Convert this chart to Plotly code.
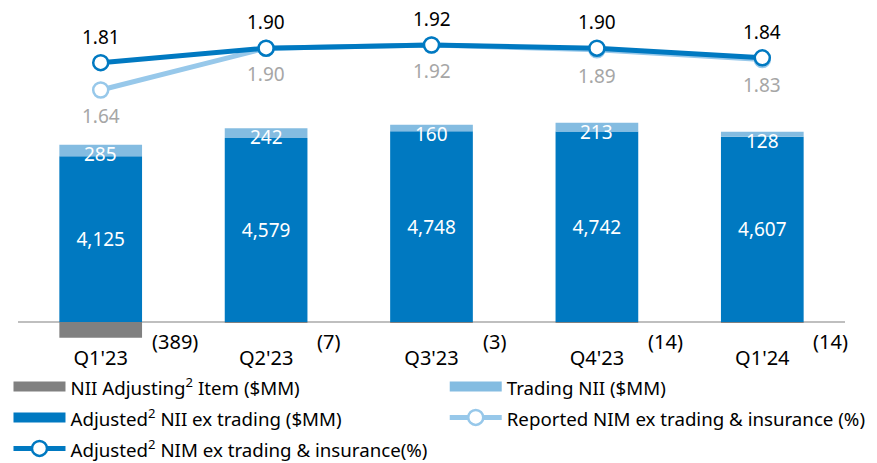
import plotly.graph_objects as go

quarters = ["Q1'23", "Q2'23", "Q3'23", "Q4'23", "Q1'24"]
adjusted_nii = [4125, 4579, 4748, 4742, 4607]
trading_nii = [285, 242, 160, 213, 128]
adjusting_item = [-389, -7, -3, -14, -14]
adjusted_nim = [1.81, 1.90, 1.92, 1.90, 1.84]
reported_nim = [1.64, 1.90, 1.92, 1.89, 1.83]

DARK = "#0079C1"
LIGHT = "#84BCE1"
LINE_LIGHT = "#97C8EA"
GRAY = "#808080"
FONT = "Noto Sans"


def lg(s):
    return f'<span style="font-size:18.7px">{s}</span>'


fig = go.Figure()

fig.add_trace(go.Bar(
    x=quarters, y=adjusting_item, name="NII Adjusting Item ($MM)", showlegend=False,
    marker=dict(color=GRAY, line=dict(width=0)), hoverinfo="skip",
))
fig.add_trace(go.Bar(
    x=quarters, y=adjusted_nii, name="Adjusted NII ex trading ($MM)", showlegend=False,
    marker=dict(color=DARK, line=dict(width=0)),
    text=[f"{v:,}" for v in adjusted_nii], textposition="inside",
    insidetextanchor="middle", textfont=dict(color="white", size=19, family=FONT),
    constraintext="none", hoverinfo="skip",
))
fig.add_trace(go.Bar(
    x=quarters, y=trading_nii, name="Trading NII ($MM)", showlegend=False,
    marker=dict(color=LIGHT, line=dict(width=0)), hoverinfo="skip",
))
fig.add_trace(go.Scatter(
    x=quarters, y=reported_nim, yaxis="y2", mode="lines+markers",
    name=lg("Reported NIM ex trading &amp; insurance (%)"), legend="legend2", legendrank=2,
    line=dict(color=LINE_LIGHT, width=5),
    marker=dict(size=15, color="white", line=dict(color=LINE_LIGHT, width=2.5)),
    cliponaxis=False, hoverinfo="skip",
))
fig.add_trace(go.Scatter(
    x=quarters, y=adjusted_nim, yaxis="y2", mode="lines+markers",
    name=lg("Adjusted<sup>2</sup> NIM ex trading &amp; insurance(%)"), legend="legend", legendrank=3,
    line=dict(color=DARK, width=5),
    marker=dict(size=15, color="white", line=dict(color=DARK, width=2.5)),
    cliponaxis=False, hoverinfo="skip",
))

# legend keys for the bar series (wide rectangles as in the reference)
for name, color, leg, rank in [
    (lg("NII Adjusting<sup>2</sup> Item ($MM)"), GRAY, "legend", 1),
    (lg("Adjusted<sup>2</sup> NII ex trading ($MM)"), DARK, "legend", 2),
    (lg("Trading NII ($MM)"), LIGHT, "legend2", 1),
]:
    fig.add_trace(go.Scatter(x=[None], y=[None], mode="lines", name=name, legend=leg,
                             legendrank=rank, line=dict(color=color, width=13),
                             hoverinfo="skip"))

# NIM labels: adjusted above, reported below
for q, v in zip(quarters, adjusted_nim):
    fig.add_annotation(x=q, y=v, yref="y2", text=f"{v:.2f}", showarrow=False,
                       yanchor="middle", yshift=26,
                       font=dict(color="black", size=19, family=FONT))
for q, v in zip(quarters, reported_nim):
    fig.add_annotation(x=q, y=v, yref="y2", text=f"{v:.2f}", showarrow=False,
                       yanchor="middle", yshift=-26,
                       font=dict(color="#A6A6A6", size=19, family=FONT))

# trading labels near top of stacks
for q, a, t in zip(quarters, adjusted_nii, trading_nii):
    fig.add_annotation(x=q, y=a + t, text=str(t), showarrow=False, yanchor="top",
                       yshift=6, font=dict(color="white", size=19, family=FONT))
# adjusting item labels, below axis to the right of each bar
for q, v in zip(quarters, adjusting_item):
    fig.add_annotation(x=q, y=0, text=f"({abs(v)})", showarrow=False, yanchor="top",
                       xanchor="left", xshift=49, yshift=-4,
                       font=dict(color="black", size=20, family=FONT))

legend_common = dict(orientation="v", xanchor="left", yanchor="top", yref="container",
                     traceorder="normal", itemwidth=52, bgcolor="rgba(0,0,0,0)",
                     font=dict(size=21.5, family=FONT, color="black"), tracegroupgap=0)

fig.update_layout(
    width=877, height=463,
    margin=dict(l=18, r=32, t=0, b=119, autoexpand=False),
    plot_bgcolor="white", paper_bgcolor="white",
    barmode="relative", bargap=0.5,
    font=dict(family=FONT, size=17, color="black"),
    showlegend=True,
    legend=dict(x=-0.0115, y=1 - 366 / 463, **legend_common),
    legend2=dict(x=0.516, y=1 - 366 / 463, **legend_common),
    xaxis=dict(showgrid=False, showline=False, zeroline=False, ticks="",
               tickfont=dict(size=20, family=FONT), range=[-0.5, 4.5]),
    yaxis=dict(range=[-547, 8010], showgrid=False, showticklabels=False,
               zeroline=True, zerolinecolor="#BFBFBF", zerolinewidth=2, showline=False),
    yaxis2=dict(range=[0.059, 2.2], overlaying="y", side="right", showgrid=False,
                showticklabels=False, zeroline=False, showline=False),
)

fig.write_html("out.html", config={"displayModeBar": False},
               post_script="document.body.style.margin='0';")
